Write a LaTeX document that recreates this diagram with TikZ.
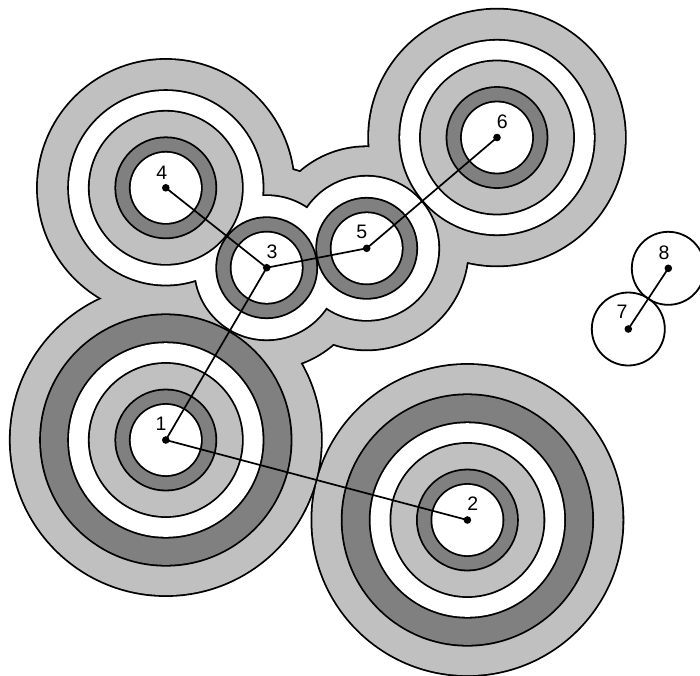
\documentclass[tikz,border=0pt]{standalone}
\usepackage{fontspec}
\setmainfont{Liberation Sans}
\definecolor{lightg}{gray}{0.753}
\definecolor{darkg}{gray}{0.502}
\tikzset{
  ringline/.style={line width=3.6pt, draw=black},
  mstedge/.style={line width=1.7pt, draw=black},
  ptdot/.style={fill=black},
  ptlabel/.style={font=\fontsize{19.5}{21}\selectfont, inner sep=0pt, text=black}
}
\newcommand\unionlayer[2]{%
  \foreach \c/\r in {#2} {\draw[ringline] (\c) circle[radius=\r pt - 0.9pt];}
  \foreach \c/\r in {#2} {\fill[#1] (\c) circle[radius=\r pt - 0.9pt];}
}
\begin{document}
\begin{tikzpicture}[x=1pt,y=-1pt]
\useasboundingbox (0,0) rectangle (700,675);
\coordinate (p1) at (165.8,440);
\coordinate (p2) at (467.4,520);
\coordinate (p3) at (266.7,267.7);
\coordinate (p4) at (165.8,187.8);
\coordinate (p5) at (366.7,248.3);
\coordinate (p6) at (497,137.5);
\coordinate (p7) at (628.3,329);
\coordinate (p8) at (668.3,268.3);
% outer light layer
\unionlayer{lightg}{p1/156,p2/156,p4/128.8,p6/128.8,p3/102,p5/102}
% dark rings of 1 and 2
\unionlayer{darkg}{p1/125.7,p2/125.7}
% white layer
\unionlayer{white}{p1/97.7,p2/97.7,p4/97.7,p6/97.7,p3/72.5,p5/72.5}
% light layer
\unionlayer{lightg}{p1/77,p2/77,p4/77,p6/77}
% dark layer
\unionlayer{darkg}{p1/50.5,p2/50.5,p3/50.5,p4/50.5,p5/50.5,p6/50.5}
% inner white
\unionlayer{white}{p1/36,p2/36,p3/36,p4/36,p5/36,p6/36}
\foreach \c in {p7,p8} {\draw[line width=1.8pt] (\c) circle[radius=36.5pt];}
% MST edges
\draw[mstedge] (p1) -- (p2);
\draw[mstedge] (p1) -- (p3);
\draw[mstedge] (p3) -- (p4);
\draw[mstedge] (p3) -- (p5);
\draw[mstedge] (p5) -- (p6);
\draw[mstedge] (p7) -- (p8);
\foreach \c in {p1,p2,p3,p4,p5,p6,p7,p8} {\fill[ptdot] (\c) circle[radius=3.8pt];}
% labels
\node[ptlabel] (l1) at (161,423.5) {1};
\node[ptlabel] (l2) at (472.7,503.5) {2};
\node[ptlabel] (l3) at (272,252) {3};
\node[ptlabel] (l4) at (161.7,172.3) {4};
\node[ptlabel] (l5) at (361.7,232.3) {5};
\node[ptlabel] (l6) at (502.3,121.7) {6};
\node[ptlabel] (l7) at (622,312) {7};
\node[ptlabel] (l8) at (664,252.3) {8};
\end{tikzpicture}
\end{document}
